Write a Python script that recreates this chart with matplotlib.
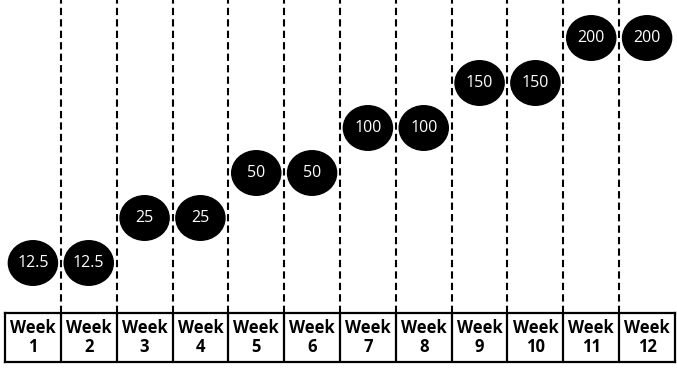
import matplotlib.pyplot as plt
from matplotlib.patches import Ellipse

weeks = ["Week\n%d" % i for i in range(1, 13)]
values = [12.5, 12.5, 25, 25, 50, 50, 100, 100, 150, 150, 200, 200]
value_labels = ["12.5", "12.5", "25", "25", "50", "50", "100", "100", "150", "150", "200", "200"]

W, H = 677, 371
fig = plt.figure(figsize=(W / 100, H / 100), dpi=100)

left, right, tab_top, tab_bot = 5, 675, 313, 362
ax = fig.add_axes([left / W, 1 - tab_top / H, (right - left) / W, tab_top / H])
tab = fig.add_axes([left / W, 1 - tab_bot / H, (right - left) / W, (tab_bot - tab_top) / H])

levels = sorted(set(values))
n = len(weeks)
ax.set_xlim(0, n)
ax.set_ylim(-50 / 45, (tab_top - 50) / 45)
ax.axis("off")

for i in range(1, n):
    ax.axvline(i, color="black", lw=1.5, ls=(0, (3.5, 2)))

for i, (v, lab) in enumerate(zip(values, value_labels)):
    lv = levels.index(v)
    ax.add_patch(Ellipse((i + 0.5, lv), 0.88, 0.99, color="black", zorder=3))
    ax.text(i + 0.5, lv, lab, color="white", ha="center", va="center",
            fontsize=11.5, family="Open Sans", zorder=4)

tab.set_xlim(0, n)
tab.set_ylim(0, 1)
tab.set_xticks([])
tab.set_yticks([])
for s in tab.spines.values():
    s.set_linewidth(1.6)
for i in range(1, n):
    tab.axvline(i, color="black", lw=1.6)
for i, w in enumerate(weeks):
    tab.text(i + 0.5, 0.5, w, ha="center", va="center", fontsize=12,
             fontweight="bold", family="Open Sans", linespacing=1.05)

fig.savefig("out.png", dpi=100)
